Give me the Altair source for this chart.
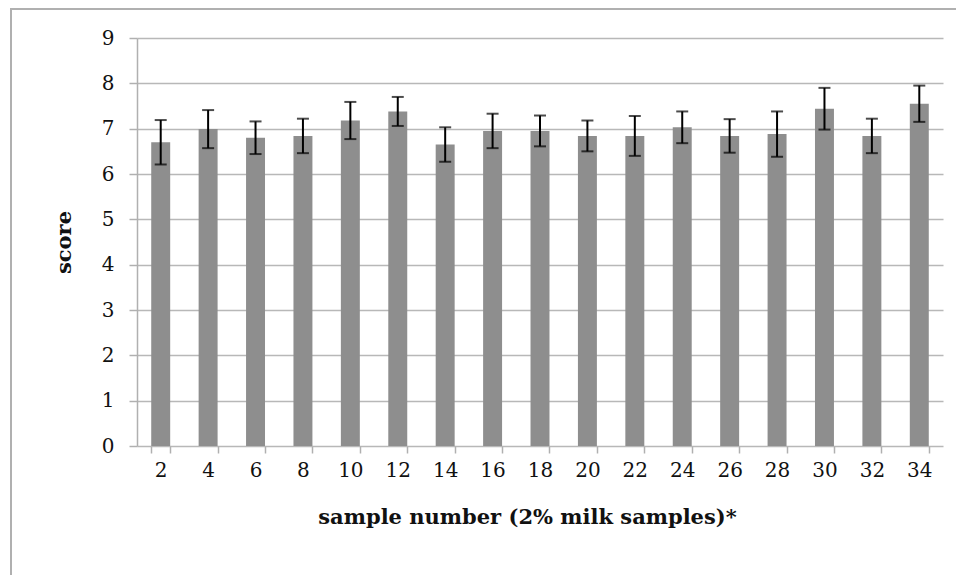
import altair as alt
import pandas as pd

samples = [2, 4, 6, 8, 10, 12, 14, 16, 18, 20, 22, 24, 26, 28, 30, 32, 34]
means = [6.70, 6.99, 6.80, 6.84, 7.18, 7.38, 6.65, 6.95, 6.95, 6.84, 6.84, 7.03, 6.84, 6.88, 7.44, 6.84, 7.55]
errs = [0.49, 0.42, 0.36, 0.38, 0.41, 0.32, 0.38, 0.38, 0.34, 0.34, 0.44, 0.35, 0.37, 0.50, 0.46, 0.38, 0.40]

df = pd.DataFrame({"sample": [str(s) for s in samples], "score": means, "err": errs})
df["lo"] = df["score"] - df["err"]
df["hi"] = df["score"] + df["err"]

FONT = "DejaVu Serif"
order = [str(s) for s in samples]

xenc = alt.X(
    "sample:N",
    sort=order,
    scale=alt.Scale(paddingInner=0.6, paddingOuter=0.3),
    axis=alt.Axis(
        title="sample number (2% milk samples)*",
        labelAngle=0,
        tickBand="extent",
        tickSize=7,
        tickColor="#b0b0b0",
        tickWidth=1.5,
        domain=False,
        labelPadding=7,
        titlePadding=26,
        titleFontSize=21,
        titleX=390,
    ),
)

base = alt.Chart(df)

bars = base.mark_bar(color="#8e8e8e").encode(
    x=xenc,
    y=alt.Y(
        "score:Q",
        scale=alt.Scale(domain=[0, 9], nice=False),
        axis=alt.Axis(
            title="score",
            values=list(range(10)),
            tickSize=8,
            tickColor="#b0b0b0",
            tickWidth=1.5,
            domainColor="#b0b0b0",
            domainWidth=1.5,
            gridColor="#b8b8b8",
            gridWidth=1.5,
            labelPadding=15,
            titlePadding=27,
            titleFontSize=21,
        ),
    ),
)

rules = base.mark_rule(color="black", strokeWidth=2).encode(
    x=alt.X("sample:N", sort=order), y="lo:Q", y2="hi:Q"
)
caps_lo = base.mark_tick(color="black", thickness=2, size=12).encode(
    x=alt.X("sample:N", sort=order), y="lo:Q"
)
caps_hi = base.mark_tick(color="black", thickness=2, size=12).encode(
    x=alt.X("sample:N", sort=order), y="hi:Q"
)

frame = base.mark_rect(filled=False, stroke="#b0b0b0", strokeWidth=1.5).encode(
    x=alt.value(-126), x2=alt.value(900), y=alt.value(-29), y2=alt.value(600)
)

chart = (
    alt.layer(frame, bars, rules, caps_lo, caps_hi)
    .properties(
        width=806,
        height=408,
        autosize=alt.AutoSizeParams(type="none"),
        padding={"left": 129, "top": 30, "right": 13, "bottom": 129},
    )
    .configure_view(stroke=None)
    .configure_axis(
        labelFont=FONT,
        titleFont=FONT,
        labelFontSize=20,
        titleFontSize=20,
        titleFontWeight="bold",
        labelColor="#111",
        titleColor="#111",
    )
)

chart.save("out.html", embed_options={"renderer": "svg", "actions": False})
